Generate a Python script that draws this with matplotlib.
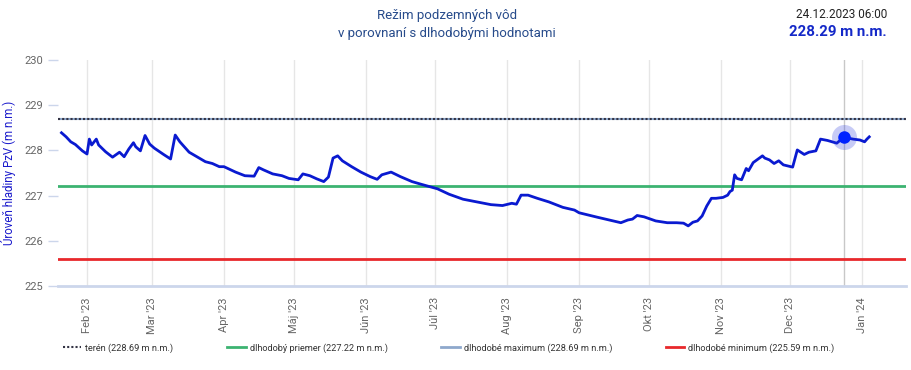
import pandas as pd
import matplotlib
matplotlib.use('Agg')
import matplotlib.pyplot as plt
from matplotlib.lines import Line2D

plt.rcParams['font.family'] = ['Roboto', 'DejaVu Sans']

# hladina PzV (odcitane z grafu)
dates = ['2023-01-21', '2023-01-23', '2023-01-25', '2023-01-27', '2023-01-30', '2023-02-01',
         '2023-02-02', '2023-02-03', '2023-02-05', '2023-02-06', '2023-02-09', '2023-02-12',
         '2023-02-15', '2023-02-17', '2023-02-19', '2023-02-21', '2023-02-22', '2023-02-24',
         '2023-02-26', '2023-02-28', '2023-03-02', '2023-03-06', '2023-03-09', '2023-03-11',
         '2023-03-13', '2023-03-17', '2023-03-21', '2023-03-24', '2023-03-27', '2023-03-30',
         '2023-04-01', '2023-04-06', '2023-04-10', '2023-04-14', '2023-04-16', '2023-04-18',
         '2023-04-22', '2023-04-26', '2023-04-29', '2023-05-03', '2023-05-05', '2023-05-08',
         '2023-05-11', '2023-05-14', '2023-05-16', '2023-05-18', '2023-05-20', '2023-05-22',
         '2023-05-26', '2023-05-30', '2023-06-03', '2023-06-06', '2023-06-08', '2023-06-12',
         '2023-06-16', '2023-06-21', '2023-06-25', '2023-07-02', '2023-07-07', '2023-07-13',
         '2023-07-19', '2023-07-25', '2023-07-30', '2023-08-03', '2023-08-05', '2023-08-07',
         '2023-08-10', '2023-08-14', '2023-08-19', '2023-08-25', '2023-08-30', '2023-09-01',
         '2023-09-09', '2023-09-14', '2023-09-19', '2023-09-22', '2023-09-24', '2023-09-26',
         '2023-09-29', '2023-10-04', '2023-10-09', '2023-10-13', '2023-10-16', '2023-10-18',
         '2023-10-20', '2023-10-22', '2023-10-24', '2023-10-26', '2023-10-28', '2023-10-30',
         '2023-11-02', '2023-11-04', '2023-11-05', '2023-11-06', '2023-11-07', '2023-11-08',
         '2023-11-10', '2023-11-12', '2023-11-13', '2023-11-15', '2023-11-19', '2023-11-20',
         '2023-11-22', '2023-11-24', '2023-11-26', '2023-11-28', '2023-12-02', '2023-12-04',
         '2023-12-07', '2023-12-09', '2023-12-12', '2023-12-14', '2023-12-17', '2023-12-21',
         '2023-12-24', '2023-12-28', '2023-12-31', '2024-01-02', '2024-01-03', '2024-01-04']
level = [228.39, 228.30, 228.19, 228.13, 227.99, 227.92,
         228.25, 228.12, 228.25, 228.12, 227.97, 227.85,
         227.96, 227.86, 228.03, 228.17, 228.08, 227.99,
         228.33, 228.14, 228.05, 227.91, 227.81, 228.34,
         228.19, 227.96, 227.84, 227.75, 227.71, 227.64,
         227.64, 227.52, 227.44, 227.43, 227.62, 227.57,
         227.48, 227.44, 227.38, 227.35, 227.48, 227.44,
         227.37, 227.31, 227.41, 227.83, 227.88, 227.77,
         227.64, 227.52, 227.42, 227.36, 227.46, 227.52,
         227.42, 227.31, 227.25, 227.15, 227.03, 226.92,
         226.86, 226.80, 226.78, 226.83, 226.81, 227.01,
         227.01, 226.94, 226.86, 226.74, 226.68, 226.62,
         226.52, 226.46, 226.40, 226.46, 226.48, 226.56,
         226.53, 226.44, 226.40, 226.40, 226.39, 226.33,
         226.41, 226.44, 226.55, 226.77, 226.94, 226.94,
         226.96, 227.01, 227.09, 227.12, 227.46, 227.38,
         227.35, 227.60, 227.55, 227.73, 227.88, 227.83,
         227.79, 227.71, 227.77, 227.68, 227.63, 228.01,
         227.91, 227.96, 227.99, 228.25, 228.22, 228.16,
         228.29, 228.25, 228.23, 228.19, 228.25, 228.30]

month_ticks = pd.date_range('2023-02-01', '2024-01-01', freq='MS')
month_labels = ["Feb '23", "Mar '23", "Apr '23", "Máj '23", "Jún '23", "Júl '23",
                "Aug '23", "Sep '23", "Okt '23", "Nov '23", "Dec '23", "Jan '24"]

teren = 228.69
priemer = 227.22
maximum = 228.69
minimum = 225.59
cursor_time = pd.Timestamp('2023-12-24 06:00')
cursor_value = 228.29

W, H = 912, 370
fig = plt.figure(figsize=(W / 100, H / 100), dpi=100)
ax = fig.add_axes([58 / W, 1 - 286 / H, (906 - 58) / W, (286 - 60) / H])

x = pd.to_datetime(dates)
ax.set_xlim(pd.Timestamp('2023-01-19 12:00'), pd.Timestamp('2024-01-19 20:00'))
ax.set_ylim(225, 230)

ax.axvline(cursor_time, color='#c8c8c8', lw=1, zorder=1)
ax.axhline(maximum, color='#8ea8cc', lw=1.5, zorder=2)
ax.axhline(teren, color='#333344', lw=1.5, ls=(0, (1, 1)), zorder=3)
ax.axhline(priemer, color='#3cb371', lw=2, zorder=2)
ax.axhline(minimum, color='#e8282b', lw=2, zorder=2)

ax.plot(x, level, color='#0a1ad0', lw=2, zorder=4)
ax.plot([cursor_time], [cursor_value], 'o', ms=18, color='#2233dd', alpha=0.25,
        mec='none', zorder=5)
ax.plot([cursor_time], [cursor_value], 'o', ms=9, color='#0022ff', mec='none', zorder=6)

for s in ['top', 'right', 'left']:
    ax.spines[s].set_visible(False)
ax.spines['bottom'].set_color('#ccd6eb')
ax.spines['bottom'].set_linewidth(2)

ax.set_xticks(month_ticks)
ax.set_xticklabels(month_labels, rotation=90, ha='center', va='top')
ax.grid(axis='x', color='#e6e6e6', lw=1)
ax.tick_params(axis='x', length=0, pad=8, labelsize=8, labelcolor='#666666')
ax.set_yticks([225, 226, 227, 228, 229, 230])
ax.tick_params(axis='y', length=7, width=1, color='#ccd6eb', pad=4,
               labelsize=8, labelcolor='#666666')
ax.set_axisbelow(True)

ax.set_ylabel('Úroveň hladiny PzV (m n.m.)', color='#1a1acc', fontsize=8.3)
ax.yaxis.set_label_coords((16 - 58) / (906 - 58), 0.5)

fig.text(447 / W, 1 - 16 / H, 'Režim podzemných vôd', ha='center', va='center',
         fontsize=9.5, color='#274b8b')
fig.text(447 / W, 1 - 33 / H, 'v porovnaní s dlhodobými hodnotami', ha='center',
         va='center', fontsize=9.5, color='#274b8b')
fig.text(887 / W, 1 - 15 / H, '24.12.2023 06:00', ha='right', va='center',
         fontsize=8.5, color='#222222')
fig.text(887 / W, 1 - 32 / H, '228.29 m n.m.', ha='right', va='center',
         fontsize=10.8, fontweight='bold', color='#1428c8')

handles = [
    Line2D([], [], color='#333344', lw=1.5, ls=(0, (1, 1))),
    Line2D([], [], color='#3cb371', lw=2),
    Line2D([], [], color='#8ea8cc', lw=2),
    Line2D([], [], color='#e8282b', lw=2),
]
labels = ['terén (228.69 m n.m.)', 'dlhodobý priemer (227.22 m n.m.)',
          'dlhodobé maximum (228.69 m n.m.)', 'dlhodobé minimum (225.59 m n.m.)']
fig.legend(handles, labels, ncol=4, loc='center left',
           bbox_to_anchor=(63 / W, 1 - 348 / H), frameon=False, fontsize=6.6,
           handlelength=2.0, handletextpad=0.45, columnspacing=5.85,
           borderpad=0, borderaxespad=0, labelcolor='#333333')

fig.savefig('out.png', dpi=100)
